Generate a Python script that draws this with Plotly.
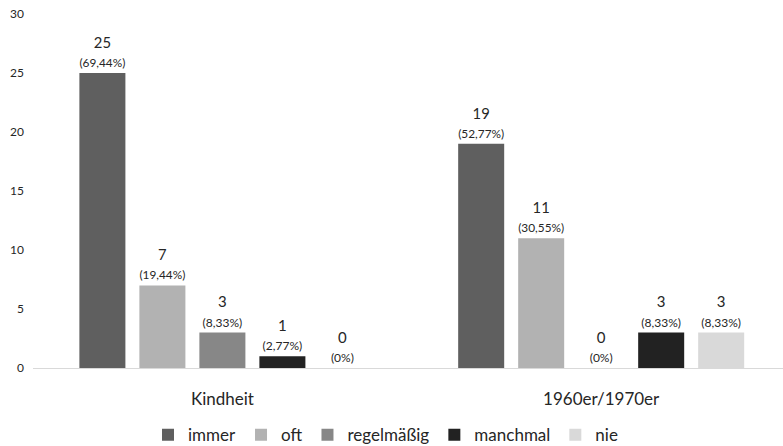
import plotly.graph_objects as go

categories = ["Kindheit", "1960er/1970er"]
series_names = ["immer", "oft", "regelmäßig", "manchmal", "nie"]
immer = [25, 19]
oft = [7, 11]
regelmaessig = [3, 0]
manchmal = [1, 3]
nie = [0, 3]
pct_immer = ["69,44%", "52,77%"]
pct_oft = ["19,44%", "30,55%"]
pct_regelmaessig = ["8,33%", "0%"]
pct_manchmal = ["2,77%", "8,33%"]
pct_nie = ["0%", "8,33%"]
colors = ["#5f5f5f", "#b2b2b2", "#878787", "#222222", "#d9d9d9"]

values = [immer, oft, regelmaessig, manchmal, nie]
pcts = [pct_immer, pct_oft, pct_regelmaessig, pct_manchmal, pct_nie]

FONT = "Lato, 'Open Sans', sans-serif"

fig = go.Figure()
for name, vals, pc, col in zip(series_names, values, pcts, colors):
    texts = [f"{v}<br><span style='font-size:12px'>({p})</span>" for v, p in zip(vals, pc)]
    fig.add_trace(go.Bar(
        name=name, x=categories, y=vals, text=texts,
        textposition="outside", cliponaxis=False,
        textfont=dict(size=15, color="#262626", family=FONT),
        marker=dict(color=col, line=dict(width=0)),
    ))

fig.update_layout(
    width=783, height=446,
    margin=dict(l=33, r=0, t=14, b=78, autoexpand=False),
    paper_bgcolor="white", plot_bgcolor="white",
    barmode="group", bargap=0.208, bargroupgap=0.233,
    font=dict(family=FONT, color="#262626"),
    showlegend=True,
    legend=dict(orientation="h", x=0.47, xanchor="center", y=-0.19, yanchor="middle",
                font=dict(size=17, color="#262626", family=FONT),
                itemwidth=30, traceorder="normal", tracegroupgap=0),
)
fig.update_xaxes(
    range=[-0.5, 1.48], showline=True, linecolor="#d9d9d9", linewidth=1,
    showgrid=False, ticks="", tickfont=dict(size=17, color="#262626", family=FONT),
    ticklabelstandoff=16, automargin=False,
)
fig.update_yaxes(
    range=[0, 30], dtick=5, showgrid=False, zeroline=False, showline=False,
    tickfont=dict(size=12, color="#262626", family=FONT), ticklabelstandoff=8,
    automargin=False,
)

fig.write_html("out.html")
